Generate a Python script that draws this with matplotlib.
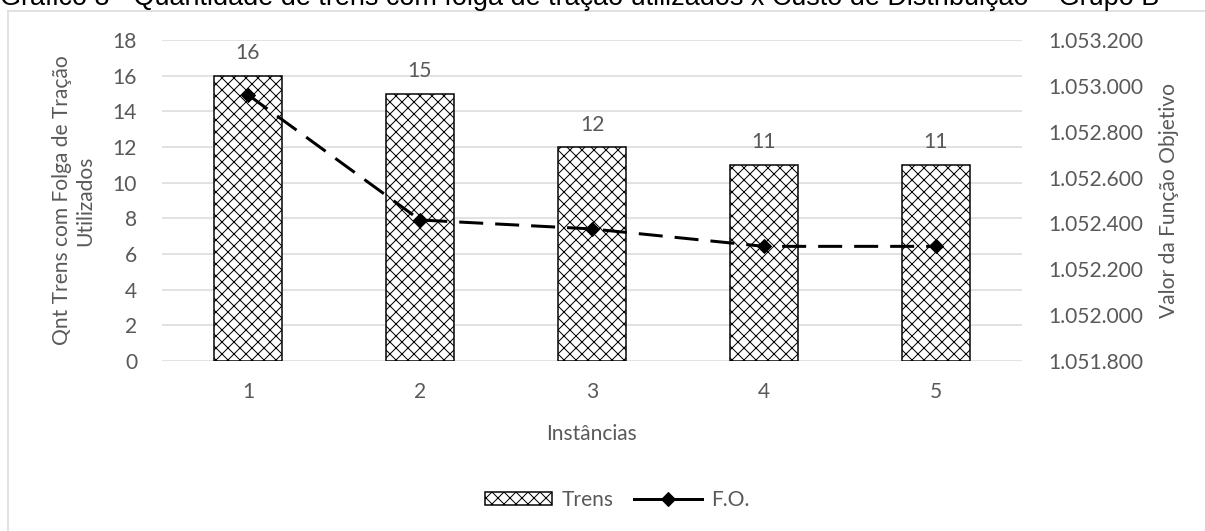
import matplotlib.pyplot as plt
from matplotlib.lines import Line2D
from matplotlib.patches import Patch
from matplotlib.ticker import FuncFormatter

# data
instancias = ['1', '2', '3', '4', '5']
trens = [16, 15, 12, 11, 11]
fo = [1052961, 1052415, 1052376, 1052300, 1052300]

titulo = 'Gráfico 8 - Quantidade de trens com folga de tração utilizados x Custo de Distribuição – Grupo B'
cinza = '#595959'
fs = 21

plt.rcParams['font.family'] = ['Lato', 'DejaVu Sans']
plt.rcParams['hatch.linewidth'] = 1.0

fig = plt.figure(figsize=(1205/72, 531/72), dpi=72)
ax = fig.add_axes([162/1205, 1-361/531, 860/1205, 321/531])

x = range(len(instancias))
bars = ax.bar(x, trens, width=0.4, color='white', edgecolor='black',
              hatch='xx', linewidth=1.5, zorder=2)
for xi, v in zip(x, trens):
    ax.text(xi, v + 0.7, str(v), ha='center', va='bottom', fontsize=fs, color=cinza)

ax.set_xlim(-0.5, 4.5)
ax.set_ylim(0, 18)
ax.set_yticks(range(0, 19, 2))
ax.set_xticks(list(x))
ax.set_xticklabels(instancias)
ax.grid(axis='y', color='#d9d9d9', linewidth=1.5, zorder=0)
ax.tick_params(length=0, labelsize=fs, labelcolor=cinza)
ax.tick_params(axis='y', pad=25)
ax.tick_params(axis='x', pad=21)
for s in ax.spines.values():
    s.set_visible(False)
ax.set_xlabel('Instâncias', fontsize=fs, color=cinza, labelpad=22)
ax.set_ylabel('Qnt Trens com Folga de Tração\nUtilizados', fontsize=fs, color=cinza, labelpad=17)

ax2 = ax.twinx()
ax2.plot(x, fo, color='black', linewidth=3, dashes=(8, 4), marker='D',
         markersize=10, zorder=3)
ax2.set_ylim(1051800, 1053200)
ax2.set_yticks(range(1051800, 1053201, 200))
ax2.yaxis.set_major_formatter(FuncFormatter(lambda v, p: '{:,.0f}'.format(v).replace(',', '.')))
ax2.tick_params(length=0, labelsize=fs, labelcolor=cinza, pad=26)
for s in ax2.spines.values():
    s.set_visible(False)
ax2.set_ylabel('Valor da Função Objetivo', fontsize=fs, color=cinza, labelpad=16)

handles = [Patch(facecolor='white', edgecolor='black', hatch='xx', linewidth=1.5),
           Line2D([], [], color='black', linewidth=3, marker='D', markersize=10)]
fig.legend(handles, ['Trens', 'F.O.'], loc='center', bbox_to_anchor=(617/1205, 1-500/531),
           ncol=2, frameon=False, fontsize=fs, labelcolor=cinza,
           handlelength=3.2, handleheight=0.6, handletextpad=0.45, columnspacing=1.0)

# moldura do grafico
fig.add_artist(Line2D([8/1205, 8/1205], [0, 1-11/531], color='#d9d9d9', linewidth=1.5))
fig.add_artist(Line2D([8/1205, 1], [1-11/531, 1-11/531], color='#d9d9d9', linewidth=1.5))

fig.text(0, 1-5/531, titulo, ha='left', va='baseline', fontsize=27,
         family='Liberation Sans', color='black')

fig.savefig('out.png', dpi=72)
